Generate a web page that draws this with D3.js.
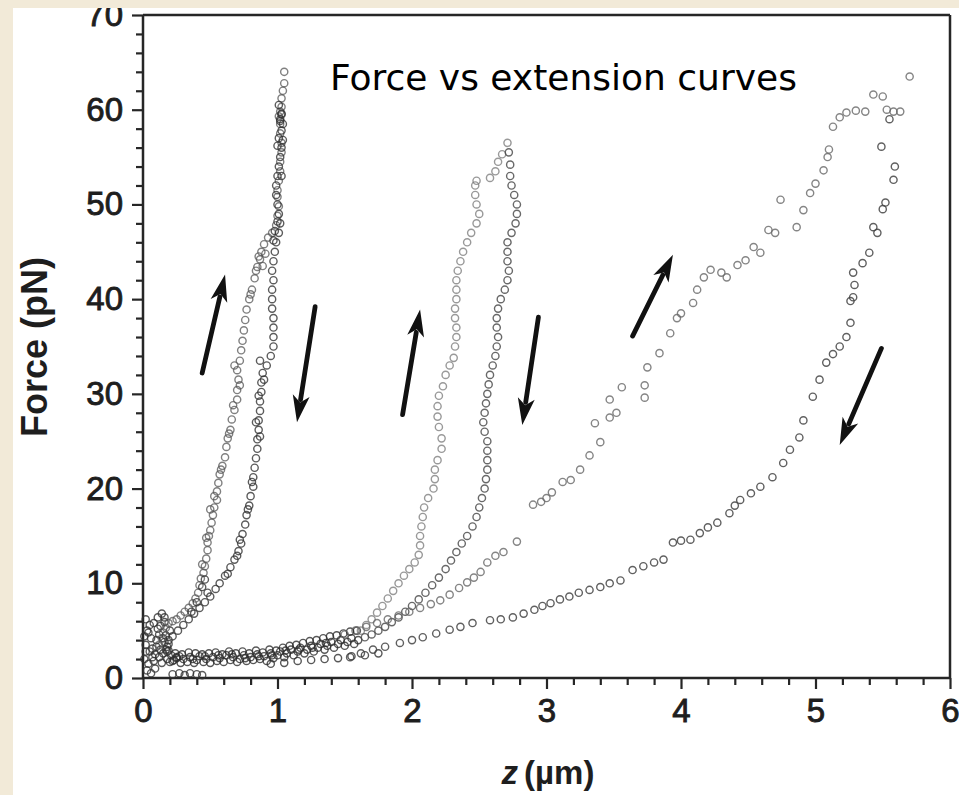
<!DOCTYPE html>
<html><head><meta charset="utf-8">
<script src="https://cdn.jsdelivr.net/npm/d3@7/dist/d3.min.js"></script>
<style>
html,body{margin:0;padding:0;background:#F2EAD8;}
svg{display:block;}
</style></head><body>
<svg id="chart" width="959" height="795"></svg>
<script>
// ---------- data (z in µm, F in pN) ----------
const xTicks = [0,1,2,3,4,5,6];
const yTicks = [0,10,20,30,40,50,60,70];
const titleText = "Force vs extension curves";
const xLabel = "z";
const xUnit = "(µm)";
const yLabel = "Force (pN)";

const originCluster = [[0.01,2.0],[0.02,3.5],[0.03,5.0],[0.02,6.2],[0.04,1.5],[0.05,2.8],[0.06,4.2],[0.05,5.6],[0.07,3.1],[0.08,1.8],[0.09,2.5],[0.10,4.0],[0.11,5.2],[0.12,2.2],[0.13,3.0],[0.14,1.6],[0.15,2.6],[0.16,3.8],[0.17,4.5],[0.18,2.0],[0.19,2.9],[0.20,1.7],[0.03,0.8],[0.06,0.5],[0.09,1.0],[0.01,4.4],[0.04,4.8],[0.08,5.8],[0.11,6.4],[0.14,6.8],[0.16,5.9],[0.13,5.5],[0.10,3.3],[0.07,2.2],[0.02,2.8],[0.12,4.6],[0.18,3.3],[0.21,2.4],[0.23,1.9],[0.25,2.2],[0.22,0.4],[0.27,0.5],[0.31,0.3],[0.35,0.5],[0.40,0.4],[0.44,0.3],[0.15,4.2],[0.17,3.0],[0.19,4.0],[0.20,5.0],[0.16,6.4]];

const baseline = [[0.22,1.8],[0.25,2.1],[0.28,1.6],[0.30,2.0],[0.33,1.7],[0.35,2.2],[0.38,1.6],[0.40,1.9],[0.42,2.3],[0.45,1.7],[0.47,2.0],[0.50,1.6],[0.52,2.2],[0.55,1.8],[0.57,2.1],[0.60,1.7],[0.62,2.4],[0.65,1.9],[0.67,2.2],[0.70,1.7],[0.72,2.0],[0.75,2.4],[0.77,1.8],[0.80,2.2],[0.82,1.9],[0.85,2.5],[0.87,2.0],[0.90,2.3],[0.92,1.8],[0.95,2.6],[0.97,2.1],[1.00,2.4],[1.02,2.8],[1.05,2.2],[1.07,2.6],[1.10,3.0],[1.12,2.4],[1.15,2.8],[1.17,3.2],[1.20,2.6],[1.22,3.0],[1.25,3.4],[1.27,2.8],[1.30,3.2],[1.32,3.6],[1.35,3.0],[1.37,3.4],[1.40,3.8],[1.42,3.2],[1.45,3.6],[1.47,4.0],[1.50,3.4],[1.52,3.8],[1.55,4.2],[1.57,3.6],[1.60,4.0],
[0.24,2.6],[0.29,2.5],[0.34,2.7],[0.39,2.6],[0.44,2.5],[0.49,2.6],[0.54,2.7],[0.59,2.5],[0.64,2.8],[0.69,2.6],[0.74,2.8],[0.79,2.6],[0.84,2.9],[0.89,2.7],[0.94,3.0],[0.99,2.9],[1.04,3.2],[1.09,3.4],[1.14,3.5],[1.19,3.7],[1.24,3.9],[1.29,4.0],[1.34,4.2],[1.39,4.4],[1.44,4.5],[1.49,4.7],[1.54,4.9],[1.59,5.0],
[0.95,1.5],[1.05,1.6],[1.15,1.8],[1.25,1.9],[1.35,2.0],[1.45,2.1],[1.55,2.3],[1.65,2.4],[1.75,2.6],
[0.27,2.3],[0.37,2.0],[0.46,2.3],[0.56,2.4],[0.66,2.5],[0.76,2.1],[0.86,2.3],[0.96,2.4],[1.06,2.9],[1.16,3.0],[1.26,3.2],[1.36,3.7]];

const stretchA = [[0.12,3.5],[0.14,4.2],[0.15,4.8],[0.17,5.3],[0.19,5.8],[0.22,6.0],[0.25,6.2],[0.28,6.6],[0.31,7.0],[0.34,7.4],[0.37,7.9],[0.39,8.4],[0.41,9.0],[0.42,9.8],[0.43,10.5],[0.45,11.1],[0.46,11.8],[0.47,12.6],[0.48,13.5],[0.48,14.3],[0.49,15.0],[0.50,15.6],[0.51,16.4],[0.52,17.2],[0.53,18.0],[0.55,18.8],[0.55,19.7],[0.56,20.6],[0.57,21.5],[0.59,22.4],[0.61,23.3],[0.62,24.4],[0.63,25.3],[0.65,26.2],[0.66,27.3],[0.68,28.3],[0.70,29.4],[0.70,30.4],[0.71,31.5],[0.70,32.5],[0.72,33.5],[0.73,34.6],[0.74,35.6],[0.75,36.7],[0.76,37.8],[0.77,38.9],[0.79,40.0],[0.81,41.0],[0.83,42.2],[0.85,43.4],[0.87,44.2],[0.88,45.0],[0.90,45.8],[0.93,46.5],[0.96,47.0],[0.99,47.8],[1.00,48.8],[1.01,49.8],[1.00,50.8],[1.00,51.5],[1.01,52.5],[1.02,53.5],[1.02,54.5],[1.03,55.5],[1.03,56.5],[1.02,57.5],[1.02,58.5],[1.01,59.3],[1.02,59.8],[1.03,60.3],[1.03,61.2],[1.04,62.0],[1.05,62.8],[1.05,64.0],
[0.44,12.0],[0.47,14.8],[0.50,17.8],[0.53,19.2],[0.58,22.0],[0.64,25.8],[0.67,28.8],[0.72,30.9],[0.68,33.0],[0.80,40.5],[0.84,43.0],[0.86,44.5],[0.89,43.5],[0.91,44.8]];

const returnA = [[1.03,59.5],[1.02,58.8],[1.03,57.8],[1.04,56.8],[1.03,56.0],[1.02,55.0],[1.01,54.0],[1.00,53.0],[0.99,52.0],[0.99,51.0],[1.00,50.0],[1.01,49.0],[1.02,48.0],[1.01,47.0],[0.99,46.0],[0.98,45.0],[0.97,44.0],[0.96,43.0],[0.97,42.0],[0.96,41.0],[0.96,40.0],[0.96,39.0],[0.97,38.0],[0.97,37.0],[0.97,36.0],[0.97,35.0],[0.95,34.0],[0.92,33.0],[0.89,32.2],[0.88,31.2],[0.88,30.2],[0.87,29.2],[0.87,28.2],[0.86,27.2],[0.86,26.2],[0.85,25.2],[0.85,24.2],[0.84,23.2],[0.83,22.2],[0.82,21.2],[0.82,20.2],[0.80,19.2],[0.79,18.2],[0.77,17.2],[0.76,16.2],[0.74,15.2],[0.73,14.2],[0.71,13.4],[0.68,12.5],[0.65,11.7],[0.61,10.8],[0.57,10.0],[0.54,9.4],[0.50,8.6],[0.46,8.0],[0.42,7.4],[0.38,6.8],[0.34,6.2],[0.30,5.6],[0.26,5.0],[0.22,4.4],[0.19,3.6],[0.18,2.8],
[1.02,59.0],[1.03,59.6],[1.01,60.5],[1.04,58.5],[1.00,56.2],[1.01,57.0],[1.03,53.0],[1.00,48.2],[0.98,47.2],[0.97,46.2],[0.87,33.5],[0.90,31.5],[0.86,29.8],[0.84,27.0],[0.87,25.5],[0.81,20.7],[0.78,17.8],[0.72,14.6],[0.70,12.9],[0.63,11.0],[0.48,9.0],[0.44,9.6],[0.46,10.4],[0.40,8.0],[0.36,7.0]];

const stretchB = [[1.62,5.0],[1.66,5.6],[1.70,6.2],[1.74,6.9],[1.78,7.6],[1.82,8.4],[1.86,9.2],[1.90,10.0],[1.94,10.8],[1.98,11.5],[2.02,12.2],[2.05,13.0],[2.06,14.0],[2.06,15.0],[2.07,16.0],[2.08,17.0],[2.09,18.0],[2.12,19.0],[2.16,20.0],[2.17,21.0],[2.17,22.0],[2.19,23.0],[2.22,24.2],[2.22,25.3],[2.20,26.5],[2.19,27.6],[2.19,28.7],[2.20,29.8],[2.23,30.8],[2.25,32.0],[2.28,33.0],[2.31,33.8],[2.32,35.0],[2.33,36.0],[2.33,37.0],[2.32,38.0],[2.32,39.0],[2.33,40.0],[2.33,41.0],[2.33,42.0],[2.34,43.0],[2.36,44.0],[2.38,45.0],[2.41,46.0],[2.44,47.0],[2.48,48.0],[2.50,49.0],[2.48,50.0],[2.47,51.0],[2.47,52.0],[2.48,52.5],[2.58,52.8],[2.62,53.5],[2.64,54.5],[2.67,55.3],[2.71,56.5]];

const returnB = [[2.72,55.5],[2.73,54.2],[2.73,53.0],[2.74,52.0],[2.76,51.0],[2.78,50.0],[2.78,49.0],[2.77,48.0],[2.74,47.0],[2.71,46.0],[2.71,45.0],[2.71,44.0],[2.72,43.0],[2.71,42.0],[2.69,41.0],[2.66,40.0],[2.64,39.0],[2.63,38.0],[2.63,37.0],[2.64,36.0],[2.63,35.0],[2.62,34.0],[2.60,33.0],[2.58,32.0],[2.57,31.0],[2.56,30.0],[2.55,29.0],[2.54,28.0],[2.53,27.0],[2.54,26.0],[2.56,25.0],[2.56,24.0],[2.56,23.0],[2.56,22.0],[2.55,21.0],[2.54,20.0],[2.52,19.0],[2.50,18.0],[2.48,17.0],[2.45,16.0],[2.41,15.0],[2.37,14.2],[2.33,13.3],[2.29,12.4],[2.25,11.5],[2.20,10.6],[2.15,9.8],[2.10,9.0],[2.05,8.3],[2.00,7.6],[1.95,7.0],[1.90,6.4],[1.85,5.9],[1.80,5.4],[1.75,5.0],[1.70,4.6],[1.65,4.3]];

const stretchC = [[1.50,4.6],[1.58,5.0],[1.66,5.4],[1.74,5.8],[1.82,6.2],[1.90,6.6],[1.98,7.0],[2.06,7.4],[2.14,7.8],[2.21,8.2],[2.28,8.8],[2.35,9.5],[2.41,10.1],[2.46,10.6],[2.51,11.2],[2.56,12.2],[2.62,12.9],[2.68,13.3],[2.78,14.4],[2.90,18.3],[2.96,18.6],[3.00,19.0],[3.04,19.6],[3.12,20.7],[3.18,20.9],[3.25,22.0],[3.32,23.5],[3.40,24.9],[3.36,26.9],[3.47,27.5],[3.52,28.0],[3.47,29.4],[3.56,30.7],[3.73,29.6],[3.73,30.9],[3.75,32.8],[3.84,34.3],[3.92,36.4],[3.97,38.0],[4.00,38.5],[4.09,39.6],[4.12,41.0],[4.17,42.3],[4.22,43.1],[4.30,42.8],[4.34,42.3],[4.42,43.6],[4.48,44.1],[4.54,45.5],[4.59,44.9],[4.65,47.3],[4.70,47.0],[4.74,50.5],[4.86,47.6],[4.91,49.4],[4.96,51.2],[5.00,52.2],[5.06,53.6],[5.09,55.0],[5.10,55.8],[5.13,58.2],[5.18,59.2],[5.23,59.7],[5.30,59.9],[5.37,59.8],[5.43,61.6],[5.50,61.4],[5.53,60.0],[5.58,59.8],[5.63,59.8],[5.70,63.5]];

const returnC = [[5.55,59.0],[5.49,56.1],[5.59,54.0],[5.58,52.6],[5.52,50.2],[5.50,49.5],[5.43,47.6],[5.46,47.0],[5.40,44.9],[5.35,43.8],[5.28,42.8],[5.29,41.5],[5.28,40.2],[5.26,39.8],[5.26,37.5],[5.23,36.0],[5.18,35.0],[5.13,34.2],[5.08,33.3],[5.03,31.5],[4.98,29.7],[4.91,27.2],[4.88,25.4],[4.81,24.1],[4.76,22.7],[4.68,21.2],[4.59,20.2],[4.52,19.5],[4.44,18.8],[4.40,18.2],[4.36,17.4],[4.27,16.4],[4.20,15.9],[4.14,15.3],[4.07,14.6],[4.00,14.5],[3.94,14.3],[3.87,12.5],[3.80,12.2],[3.72,11.8],[3.64,11.4],[3.55,10.3],[3.47,10.0],[3.40,9.6],[3.32,9.3],[3.24,9.0],[3.17,8.6],[3.10,8.3],[3.03,7.9],[2.97,7.6],[2.91,7.2],[2.83,6.8],[2.75,6.4],[2.66,6.2],[2.58,6.1],[2.45,5.8],[2.36,5.4],[2.28,5.1],[2.18,4.7],[2.08,4.3],[2.00,4.0],[1.91,3.7],[1.80,3.3],[1.71,3.0],[1.62,2.6],[1.54,2.2]];

// arrows: [z tail, F tail, z head, F head]
const arrows = [[0.44,32.2,0.61,42.6],[1.28,39.2,1.145,27.0],[1.93,27.8,2.06,38.9],[2.94,38.1,2.82,26.7],[3.64,36.1,3.94,44.7],[5.49,34.8,5.18,24.6]];

// ---------- layout ----------
const svg = d3.select("#chart");
svg.append("rect").attr("x",13).attr("y",8).attr("width",946).attr("height",787).attr("fill","#ffffff");

const x = d3.scaleLinear().domain([0,6]).range([143,950]);
const y = d3.scaleLinear().domain([0,70]).range([678,15]);

const ink = "#262626";
const tickFont = "Liberation Sans, Arial, sans-serif";
// frame (top and right)
svg.append("line").attr("x1",x(0)).attr("x2",x(6)).attr("y1",y(70)).attr("y2",y(70)).attr("stroke",ink).attr("stroke-width",2.5);
svg.append("line").attr("x1",x(6)).attr("x2",x(6)).attr("y1",y(70)).attr("y2",y(0)).attr("stroke",ink).attr("stroke-width",2.5);

// minor ticks
const yMinor = d3.range(0,70.01,2).filter(v=>v%10!==0);
const xMinor = d3.range(0,6.001,0.2).filter(v=>Math.abs(v-Math.round(v))>1e-6);

const gy = svg.append("g").attr("transform",`translate(${x(0)},0)`)
  .call(d3.axisLeft(y).tickValues(yTicks).tickSize(11).tickPadding(9).tickFormat(d3.format("d")));
const gyMinor = svg.append("g").attr("transform",`translate(${x(0)},0)`)
  .call(d3.axisLeft(y).tickValues(yMinor).tickSize(7).tickFormat(""));
const gx = svg.append("g").attr("transform",`translate(0,${y(0)})`)
  .call(d3.axisBottom(x).tickValues(xTicks).tickSize(11).tickPadding(10).tickFormat(d3.format("d")));
const gxMinor = svg.append("g").attr("transform",`translate(0,${y(0)})`)
  .call(d3.axisBottom(x).tickValues(xMinor).tickSize(7).tickFormat(""));

[gy,gyMinor,gx,gxMinor].forEach(g=>{
  g.select(".domain").attr("stroke",ink).attr("stroke-width",2.5);
  g.selectAll(".tick line").attr("stroke",ink).attr("stroke-width",2.2);
  g.selectAll(".tick text").attr("fill","#1e1e1e").attr("font-family",tickFont).attr("font-size",33).attr("stroke","#1e1e1e").attr("stroke-width",0.9);
});
gy.select(".domain").attr("d",`M0,${y(0)}V${y(70)}`);
gx.select(".domain").attr("d",`M${x(0)},0H${x(6)}`);
gyMinor.select(".domain").remove(); gxMinor.select(".domain").remove();

// axis titles
svg.append("text").attr("transform",`translate(47,347) rotate(-90)`).attr("text-anchor","middle")
  .attr("font-family",tickFont).attr("font-weight","bold").attr("font-size",36).attr("fill","#1e1e1e")
  .text(yLabel);
const xt = svg.append("text").attr("x",548).attr("y",784).attr("text-anchor","middle")
  .attr("font-family",tickFont).attr("font-weight","bold").attr("font-size",33).attr("fill","#1e1e1e");
xt.append("tspan").attr("font-style","italic").text(xLabel);
xt.append("tspan").attr("dx",6).text(xUnit);

// title
svg.append("text").attr("x",330).attr("y",90).attr("font-family","DejaVu Sans, Verdana, sans-serif")
  .attr("font-size",36).attr("fill","#000").text(titleText);

// points
const series = [
  {d:originCluster, c:"#333", o:0.8},
  {d:baseline, c:"#2e2e2e", o:0.8},
  {d:stretchA, c:"#555", o:0.75},
  {d:returnA, c:"#333", o:0.8},
  {d:stretchB, c:"#777", o:0.75},
  {d:returnB, c:"#444", o:0.8},
  {d:stretchC, c:"#666", o:0.8},
  {d:returnC, c:"#444", o:0.85}
];
const pts = svg.append("g");
series.forEach(s=>{
  pts.append("g").selectAll("circle").data(s.d).join("circle")
    .attr("cx",d=>x(d[0])).attr("cy",d=>y(d[1])).attr("r",3.6)
    .attr("fill","none").attr("stroke",s.c).attr("stroke-opacity",s.o).attr("stroke-width",1.4);
});

// arrows
const ag = svg.append("g");
arrows.forEach(a=>{
  const x1=x(a[0]), y1=y(a[1]), x2=x(a[2]), y2=y(a[3]);
  const dx=x2-x1, dy=y2-y1, L=Math.hypot(dx,dy), ux=dx/L, uy=dy/L;
  const hl=27, hw=8.5;
  const bx=x2-ux*hl, by=y2-uy*hl;
  ag.append("line").attr("x1",x1).attr("y1",y1).attr("x2",bx+ux*4).attr("y2",by+uy*4)
    .attr("stroke","#111").attr("stroke-width",4.8).attr("stroke-linecap","round");
  ag.append("path").attr("d",`M${x2},${y2}L${bx-uy*hw},${by+ux*hw}L${bx+ux*7},${by+uy*7}L${bx+uy*hw},${by-ux*hw}Z`).attr("fill","#111");
});

// top beige band (the scan's border covers the upper edge of the "70" label)
svg.append("rect").attr("x",0).attr("y",0).attr("width",959).attr("height",8).attr("fill","#F2EAD8");
svg.append("rect").attr("x",0).attr("y",0).attr("width",13).attr("height",795).attr("fill","#F2EAD8");
</script>
</body></html>
